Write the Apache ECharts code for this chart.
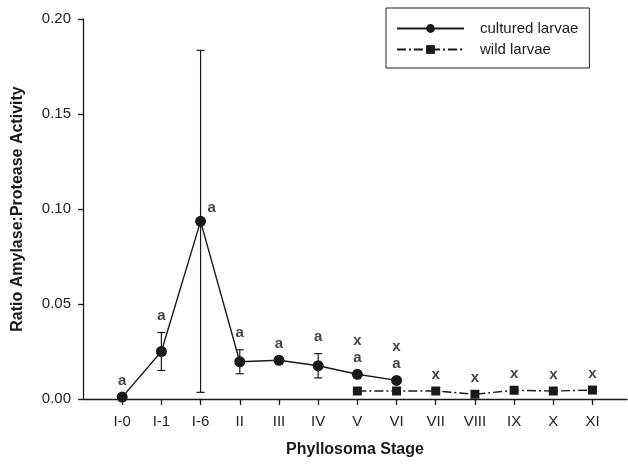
<!DOCTYPE html>
<html>
<head>
<meta charset="utf-8">
<script src="https://cdn.jsdelivr.net/npm/echarts@6/dist/echarts.min.js"></script>
<style>
  html, body { margin: 0; padding: 0; background: #fff; }
  #chart { width: 628px; height: 464px; }
</style>
</head>
<body>
<div id="chart"></div>
<script>
// Phyllosoma stages along the x axis
const stages = ['I-0', 'I-1', 'I-6', 'II', 'III', 'IV', 'V', 'VI', 'VII', 'VIII', 'IX', 'X', 'XI'];

// Cultured larvae: ratio and standard error (null = no bar)
const culturedRatio = [0.001, 0.025, 0.0935, 0.0196, 0.0204, 0.0175, 0.013, 0.0098, null, null, null, null, null];
const culturedErr   = [null, 0.0100, 0.0900, 0.0063, null, 0.0064, null, null, null, null, null, null, null];

// Wild larvae ratio
const wildRatio = [null, null, null, null, null, null, 0.0042, 0.0042, 0.0042, 0.0025, 0.0046, 0.0042, 0.0047];

// Significance letters shown above each stage
const letters = ['a', 'a', 'a', 'a', 'a', 'a', 'x\na', 'x\na', 'x', 'x', 'x', 'x', 'x'];

const yTicks = [0, 0.05, 0.10, 0.15, 0.20];

const ink = '#1a1a1a';
const font = '"Liberation Sans", Arial, sans-serif';

const culturedData = culturedRatio.map((v, i) => v == null ? null : [i, v]).filter(Boolean);
const wildData = wildRatio.map((v, i) => v == null ? null : [i, v]).filter(Boolean);
const errData = culturedRatio.map((v, i) => (v == null || culturedErr[i] == null) ? null : [i, v, culturedErr[i]]).filter(Boolean);

// Letters sit above the highest mark at each stage (top of error bar when present)
const letterData = letters.map((t, i) => {
  const tops = [];
  if (culturedRatio[i] != null) tops.push(culturedRatio[i] + (culturedErr[i] || 0));
  if (wildRatio[i] != null) tops.push(wildRatio[i]);
  const item = { value: [i, Math.max(...tops)], text: t };
  if (i === 2) {
    // peak stage: letter beside the point rather than above the long bar
    item.value = [i, culturedRatio[i]];
    item.label = { position: 'right', distance: 11, offset: [0, -13] };
  }
  return item;
});

const chart = echarts.init(document.getElementById('chart'), null, { renderer: 'canvas' });

chart.setOption({
  animation: false,
  backgroundColor: '#fff',
  grid: { left: 83, right: 1, top: 19, bottom: 65, containLabel: false },
  legend: {
    left: 386, top: 8,
    orient: 'vertical',
    borderColor: '#222', borderWidth: 1,
    padding: [13, 11, 11, 10],
    itemWidth: 67, itemHeight: 11, itemGap: 6,
    textStyle: { fontFamily: font, fontSize: 15, color: ink, padding: [0, 0, 0, 11] },
    data: ['cultured larvae', 'wild larvae']
  },
  xAxis: {
    type: 'value',
    min: -1, max: 12.88, interval: 1,
    name: 'Phyllosoma Stage',
    nameLocation: 'middle', nameGap: 43,
    nameTextStyle: { fontFamily: font, fontSize: 16, fontWeight: 'bold', color: ink },
    axisLine: { onZero: false, lineStyle: { color: ink, width: 1.3 } },
    axisTick: { length: 6, lineStyle: { color: ink, width: 1.3 }, customValues: stages.map((s, i) => i) },
    axisLabel: {
      customValues: stages.map((s, i) => i),
      formatter: v => stages[v] || '',
      fontFamily: font, fontSize: 15, color: '#222', margin: 15
    },
    splitLine: { show: false }
  },
  yAxis: {
    type: 'value',
    min: 0, max: 0.2, interval: 0.05,
    name: 'Ratio Amylase:Protease Activity',
    nameLocation: 'middle', nameGap: 57, nameRotate: 90,
    nameTextStyle: { fontFamily: font, fontSize: 16, fontWeight: 'bold', color: ink },
    axisLine: { show: true, onZero: false, lineStyle: { color: ink, width: 1.3 } },
    axisTick: { show: true, length: 5, lineStyle: { color: ink, width: 1.3 } },
    axisLabel: {
      formatter: v => v.toFixed(2),
      fontFamily: font, fontSize: 15, color: '#222', margin: 12
    },
    splitLine: { show: false }
  },
  series: [
    {
      name: 'error',
      type: 'custom',
      silent: true,
      z: 1,
      renderItem: (params, api) => {
        const x = api.value(0), v = api.value(1), e = api.value(2);
        const hi = api.coord([x, v + e]);
        const lo = api.coord([x, v - e]);
        const hw = 4;
        const style = { stroke: ink, lineWidth: 1.2 };
        return {
          type: 'group',
          children: [
            { type: 'line', shape: { x1: hi[0], y1: hi[1], x2: lo[0], y2: lo[1] }, style },
            { type: 'line', shape: { x1: hi[0] - hw, y1: hi[1], x2: hi[0] + hw, y2: hi[1] }, style },
            { type: 'line', shape: { x1: lo[0] - hw, y1: lo[1], x2: lo[0] + hw, y2: lo[1] }, style }
          ]
        };
      },
      encode: { x: 0, y: 1 },
      data: errData
    },
    {
      name: 'cultured larvae',
      type: 'line',
      z: 3,
      symbol: 'circle', symbolSize: 11,
      lineStyle: { color: ink, width: 1.4 },
      itemStyle: { color: ink },
      data: culturedData
    },
    {
      name: 'wild larvae',
      type: 'line',
      z: 3,
      symbol: 'rect', symbolSize: 9,
      lineStyle: { color: ink, width: 1.4, type: [9, 3, 2, 3] },
      itemStyle: { color: ink },
      data: wildData
    },
    {
      name: 'letters',
      type: 'scatter',
      silent: true,
      z: 4,
      symbolSize: 0,
      itemStyle: { color: 'rgba(0,0,0,0)' },
      label: {
        show: true,
        position: 'top',
        distance: 8,
        formatter: p => p.data.text,
        fontFamily: font, fontSize: 15, fontWeight: 'bold', color: '#111',
        lineHeight: 17, align: 'center'
      },
      data: letterData
    }
  ]
});
</script>
</body>
</html>
